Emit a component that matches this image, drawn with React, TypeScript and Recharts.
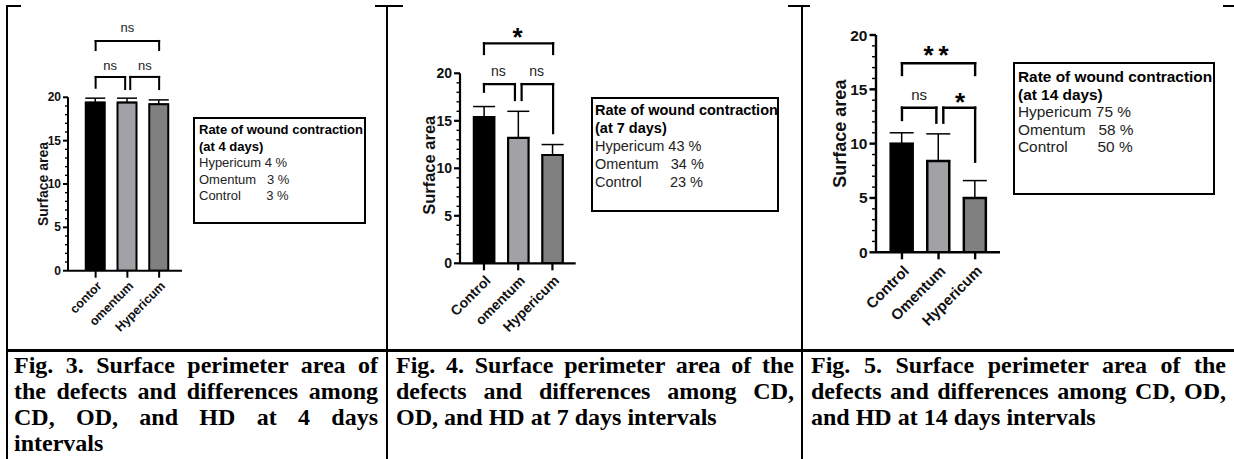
import React from 'react';
import { BarChart, Bar, XAxis, YAxis, ErrorBar, Cell, ReferenceLine, ReferenceDot } from 'recharts';

const SANS = '"Liberation Sans", Arial, Helvetica, sans-serif';
const SERIF = '"Liberation Serif", "Times New Roman", Times, serif';

// ---------- data ----------
const names4 = ['contor', 'omentum', 'Hypericum'];
const values4 = [19.4, 19.4, 19.2];
const errors4 = [0.5, 0.5, 0.5];

const names7 = ['Control', 'omentum', 'Hypericum'];
const values7 = [15.4, 13.2, 11.4];
const errors7 = [1.1, 2.8, 1.1];

const names14 = ['Control', 'Omentum', 'Hypericum'];
const values14 = [10.0, 8.4, 5.0];
const errors14 = [1.0, 2.5, 1.6];

const barFills = ['#000000', '#a2a2a6', '#808080'];

const yTicks = [0, 1, 2, 3, 4, 5, 6, 7, 8, 9, 10, 11, 12, 13, 14, 15, 16, 17, 18, 19, 20];
const xTicks = [0, 1, 2];

// significance brackets: x1/x2 in category index units, y = bar, yl / yr = leg ends
const brackets4 = [
  { x1: 0, x2: 2, y: 26.5, yl: 25.45, yr: 25.45 },
  { x1: 0, x2: 0.93, y: 22.35, yl: 21.1, yr: 20.95 },
  { x1: 1.09, x2: 2, y: 22.35, yl: 20.95, yr: 20.95 },
];
const marks4 = [
  { x: 1.0, y: 28.0, text: 'ns' },
  { x: 0.46, y: 23.7, text: 'ns' },
  { x: 1.55, y: 23.7, text: 'ns' },
];

const brackets7 = [
  { x1: 0, x2: 2.02, y: 23.16, yl: 22.03, yr: 22.03 },
  { x1: 0, x2: 0.905, y: 18.87, yl: 18.06, yr: 17.19 },
  { x1: 1.1, x2: 2.02, y: 18.87, yl: 17.19, yr: 13.7 },
];
const marks7 = [
  { x: 0.98, y: 24.66, text: '*' },
  { x: 0.42, y: 20.24, text: 'ns' },
  { x: 1.54, y: 20.24, text: 'ns' },
];

const brackets14 = [
  { x1: 0, x2: 2.0, y: 17.4, yl: 16.32, yr: 16.32 },
  { x1: 0, x2: 0.94, y: 13.31, yl: 12.18, yr: 11.93 },
  { x1: 1.13, x2: 2.0, y: 13.31, yl: 11.93, yr: 8.34 },
];
const marks14 = [
  { x: 1.0, y: 18.92, text: '**' },
  { x: 0.47, y: 14.54, text: 'ns' },
  { x: 1.59, y: 14.54, text: '*' },
];

const rateTitle = 'Rate of wound contraction';
const rateDays = ['(at 4 days)', '(at 7 days)', '(at 14 days)'];
const rateLabels = ['Hypericum ', 'Omentum   ', 'Control       '];
const rates4 = ['4 %', '3 %', '3 %'];
const rates7 = ['43 %', '34 %', '23 %'];
const rates14 = ['75 %', '58 %', '50 %'];

const caption3 = ['Fig. 3. Surface perimeter area of', 'the defects and differences among', 'CD, OD, and HD at 4 days', 'intervals'];
const caption4 = ['Fig. 4. Surface perimeter area of the', 'defects and differences among CD,', 'OD, and HD at 7 days intervals'];
const caption5 = ['Fig. 5. Surface perimeter area of the', 'defects and differences among CD, OD,', 'and HD at 14 days intervals'];

// ---------- layout (styles only) ----------
const AXW = 40; // y-axis box width
const AXH = 60; // x-axis box height
const panels = [
  {
    names: names4, values: values4, errors: errors4, brackets: brackets4, marks: marks4,
    left: 0, width: 385, height: 345,
    margin: { top: 97.3, left: 68 - AXW, right: 203, bottom: 74.3 - AXH },
    xDomain: [-0.87, 2.72], barSize: 19, stroke: 2, axisW: 2,
    tickFs: 12, xFs: 12.5, yLabFs: 14, yLabDx: 25, yLabDy: 0, markFs: 13, starFs: 24,
    majorLen: 5, minorLen: 3, labelGap: 2, capW: 10,
    rates: rates4, days: rateDays[0],
    box: { left: 193, top: 117, width: 173, height: 107, fs: 13, lh: 16.5, pt: 3, pl: 4 },
  },
  {
    names: names7, values: values7, errors: errors7, brackets: brackets7, marks: marks7,
    left: 389, width: 411, height: 345,
    margin: { top: 73.3, left: 71 - AXW, right: 224.3, bottom: 81.7 - AXH },
    xDomain: [-0.7, 2.68], barSize: 20.5, stroke: 2.2, axisW: 2.2,
    tickFs: 14, xFs: 14, yLabFs: 16.5, yLabDx: 31, yLabDy: -3, markFs: 14, starFs: 26,
    majorLen: 6, minorLen: 3.5, labelGap: 2, capW: 11,
    rates: rates7, days: rateDays[1],
    box: { left: 591, top: 97, width: 188, height: 115, fs: 14.5, lh: 18, pt: 1.5, pl: 2 },
  },
  {
    names: names14, values: values14, errors: errors14, brackets: brackets14, marks: marks14,
    left: 804, width: 430, height: 345,
    margin: { top: 35, left: 72 - AXW, right: 234, bottom: 92.7 - AXH },
    xDomain: [-0.71, 2.68], barSize: 22, stroke: 2.5, axisW: 2.4,
    tickFs: 15.5, xFs: 15, yLabFs: 18, yLabDx: 36, yLabDy: -10, markFs: 15, starFs: 26,
    majorLen: 6.5, minorLen: 4, labelGap: 2, capW: 12,
    rates: rates14, days: rateDays[2],
    box: { left: 1013, top: 62, width: 202, height: 133, fs: 15.4, lh: 17.5, pt: 4, pl: 3 },
  },
];

const YTick = (props: any) => {
  const { x, y, payload, cfg } = props;
  const v = payload.value;
  const major = v % 5 === 0;
  const len = major ? cfg.majorLen : cfg.minorLen;
  return (
    <g>
      <line x1={x} x2={x - len} y1={y} y2={y} stroke="#000" strokeWidth={major ? cfg.axisW : 1.4} />
      {major && (
        <text x={x - len - cfg.labelGap} y={y} textAnchor="end" dominantBaseline="central"
          fontFamily={SANS} fontWeight="bold" fontSize={cfg.tickFs} fill="#111">{v}</text>
      )}
    </g>
  );
};

const XTick = (props: any) => {
  const { x, y, payload, cfg } = props;
  const label = cfg.names[payload.value];
  return (
    <g transform={`translate(${x},${y})`}>
      <line x1={0} x2={0} y1={0} y2={7} stroke="#000" strokeWidth={cfg.axisW} />
      <text transform={`translate(4,${cfg.xFs * 1.05}) rotate(-45)`} x={0} y={0}
        textAnchor="end" dominantBaseline="central"
        fontFamily={SANS} fontWeight="bold" fontSize={cfg.xFs} fill="#111">{label}</text>
    </g>
  );
};

function Panel({ cfg }: { cfg: any }) {
  const rows = cfg.names.map((n: string, i: number) => ({
    x: i, name: n, value: cfg.values[i], err: [0, cfg.errors[i]],
  }));
  const yLabel = (p: any) => {
    const vb = p.viewBox || {};
    const cx = vb.x + vb.width - cfg.yLabDx;
    const cy = vb.y + vb.height / 2 + cfg.yLabDy;
    return (
      <text x={cx} y={cy} transform={`rotate(-90, ${cx}, ${cy})`} textAnchor="middle"
        dominantBaseline="central" fontFamily={SANS} fontWeight="bold" fontSize={cfg.yLabFs} fill="#111">
        Surface area
      </text>
    );
  };
  const lineProps = { stroke: '#000', strokeWidth: cfg.axisW, ifOverflow: 'visible' as const, strokeLinecap: 'square' as const };
  return (
    <div style={{ position: 'absolute', left: cfg.left, top: 0 }}>
      <BarChart width={cfg.width} height={cfg.height} data={rows} margin={cfg.margin}>
        <XAxis dataKey="x" type="number" domain={cfg.xDomain} ticks={xTicks} interval={0}
          height={AXH} tickSize={0} tickMargin={0} tickLine={false} allowDataOverflow
          axisLine={{ stroke: '#000', strokeWidth: cfg.axisW }}
          tick={(p: any) => <XTick {...p} cfg={cfg} />} />
        <YAxis type="number" domain={[0, 20]} ticks={yTicks} interval={0} width={AXW}
          tickSize={0} tickMargin={0} tickLine={false} allowDataOverflow
          axisLine={{ stroke: '#000', strokeWidth: cfg.axisW }}
          tick={(p: any) => <YTick {...p} cfg={cfg} />} label={yLabel} />
        <Bar dataKey="value" barSize={cfg.barSize} stroke="#000" strokeWidth={cfg.stroke} isAnimationActive={false}>
          {rows.map((_r: any, i: number) => <Cell key={i} fill={barFills[i]} />)}
          <ErrorBar dataKey="err" width={cfg.capW} stroke="#000" strokeWidth={1.5} direction="y" isAnimationActive={false} />
        </Bar>
        {cfg.brackets.map((b: any, i: number) => (
          <React.Fragment key={`b${i}`}>
            <ReferenceLine {...lineProps} segment={[{ x: b.x1, y: b.yl }, { x: b.x1, y: b.y }]} />
            <ReferenceLine {...lineProps} segment={[{ x: b.x1, y: b.y }, { x: b.x2, y: b.y }]} />
            <ReferenceLine {...lineProps} segment={[{ x: b.x2, y: b.y }, { x: b.x2, y: b.yr }]} />
          </React.Fragment>
        ))}
        {cfg.marks.map((m: any, i: number) => (
          <ReferenceDot key={`m${i}`} x={m.x} y={m.y} r={0} ifOverflow="visible"
            shape={(p: any) => {
              const star = m.text.indexOf('*') >= 0;
              return (
                <text x={p.cx} y={p.cy} dy={star ? '0.3em' : 0} textAnchor="middle" dominantBaseline="central"
                  fontFamily={SANS} fontWeight={star ? 'bold' : 'normal'}
                  fontSize={star ? cfg.starFs : cfg.markFs} fill={star ? '#000' : '#222'}
                  letterSpacing={m.text === '**' ? 5 : 0}>
                  {m.text}
                </text>
              );
            }} />
        ))}
      </BarChart>
      <div style={{
        position: 'absolute', left: cfg.box.left - cfg.left, top: cfg.box.top, width: cfg.box.width, height: cfg.box.height,
        border: '2px solid #000', boxSizing: 'border-box', paddingTop: cfg.box.pt, paddingLeft: cfg.box.pl,
        fontFamily: SANS, fontSize: cfg.box.fs, lineHeight: `${cfg.box.lh}px`, background: '#fff', whiteSpace: 'pre',
      }}>
        <div style={{ fontWeight: 'bold', color: '#000' }}>{rateTitle}</div>
        <div style={{ fontWeight: 'bold', color: '#000' }}>{cfg.days}</div>
        {rateLabels.map((l, i) => (
          <div key={i} style={{ color: '#222' }}>{l}{cfg.rates[i]}</div>
        ))}
      </div>
    </div>
  );
}

function Caption({ lines, left, width }: { lines: string[]; left: number; width: number }) {
  return (
    <div style={{ position: 'absolute', left, top: 352, width, fontFamily: SERIF, fontWeight: 'bold', fontSize: 24, lineHeight: '26px', color: '#000' }}>
      {lines.map((l, i) => (
        <div key={i} style={{ whiteSpace: 'nowrap', textAlign: 'justify', textAlignLast: i === lines.length - 1 ? 'left' : 'justify' }}>{l}</div>
      ))}
    </div>
  );
}

const rule = (left: number, top: number, width: number, height: number, key: string) => (
  <div key={key} style={{ position: 'absolute', left, top, width, height, background: '#000' }} />
);

export default function App() {
  return (
    <div style={{ position: 'absolute', left: 0, top: 0, width: 1234, height: 459, background: '#fff', overflow: 'hidden' }}>
      {panels.map((p, i) => <Panel key={i} cfg={p} />)}
      <Caption lines={caption3} left={14} width={364} />
      <Caption lines={caption4} left={396} width={398} />
      <Caption lines={caption5} left={811} width={415} />
      {rule(6, 5, 15, 2, 't1')}
      {rule(375, 5, 28, 2, 't2')}
      {rule(788, 5, 22, 2, 't3')}
      {rule(1223, 5, 11, 2, 't4')}
      {rule(6, 5, 2, 454, 'v1')}
      {rule(386, 5, 2, 454, 'v2')}
      {rule(801, 5, 2, 454, 'v3')}
      {rule(6, 349, 1228, 3, 'h1')}
    </div>
  );
}
